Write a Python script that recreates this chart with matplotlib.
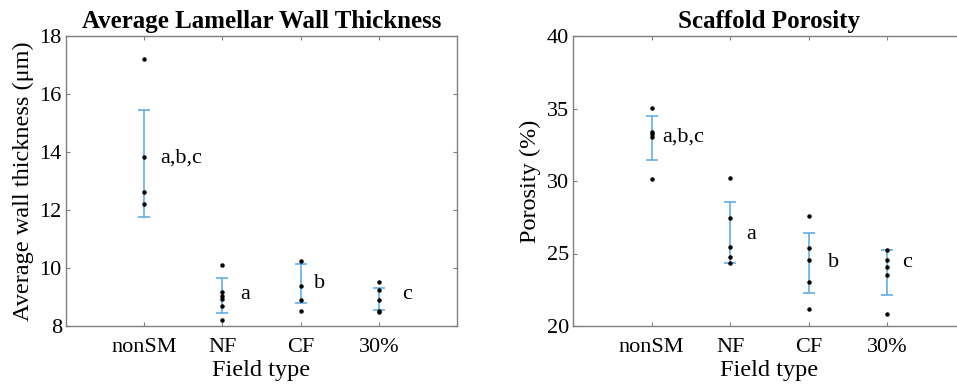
import matplotlib
matplotlib.use('Agg')
import matplotlib.pyplot as plt

plt.rcParams['font.family'] = ['Liberation Serif', 'DejaVu Serif']

groups = ['nonSM', 'NF', 'CF', '30%']

# wall thickness (um), individual samples per group
wall_pts = [
    [17.2, 13.84, 12.62, 12.2],
    [10.1, 9.18, 9.03, 8.92, 8.7, 8.2],
    [10.25, 9.38, 8.9, 8.53],
    [9.52, 9.24, 8.9, 8.52, 8.5],
]
wall_lo = [11.76, 8.46, 8.78, 8.55]
wall_hi = [15.45, 9.64, 10.14, 9.32]
wall_sig = ['a,b,c', 'a', 'b', 'c']
wall_lab = [(1.2, 13.8), (2.23, 9.1), (3.17, 9.48), (4.3, 9.1)]

# porosity (%)
por_pts = [
    [35.03, 33.4, 33.24, 33.06, 30.16],
    [30.2, 27.47, 25.47, 24.78, 24.32],
    [27.6, 25.36, 24.55, 23.06, 21.2],
    [25.26, 24.57, 24.09, 23.52, 20.8],
]
por_lo = [31.45, 24.32, 22.26, 22.14]
por_hi = [34.5, 28.55, 26.43, 25.24]
por_sig = ['a,b,c', 'a', 'b', 'c']
por_lab = [(1.14, 33.05), (2.2, 26.3), (3.24, 24.4), (4.19, 24.4)]

ebcol = '#55a8e6'
spcol = '#7f7f7f'


def draw(ax, pts, lo, hi, sig, lab, ylim, yticks, ylabel, title):
    xs = [1, 2, 3, 4]
    mid = [(a + b) / 2 for a, b in zip(lo, hi)]
    err = [(b - a) / 2 for a, b in zip(lo, hi)]
    ax.errorbar(xs, mid, yerr=err, fmt='none', ecolor=ebcol, elinewidth=1.1,
                capsize=4.5, capthick=1.1, zorder=2)
    for x, p in zip(xs, pts):
        ax.plot([x] * len(p), p, 'o', color='black', ms=2.2, zorder=3, ls='none')
    for s, (tx, ty) in zip(sig, lab):
        ax.text(tx, ty, s, fontsize=16, ha='left', va='center')
    ax.set_xlim(0, 5)
    ax.set_ylim(*ylim)
    ax.set_xticks(xs)
    ax.set_xticklabels(groups, fontsize=16)
    ax.set_yticks(yticks)
    ax.tick_params(axis='y', labelsize=16, pad=3)
    ax.tick_params(axis='x', pad=9)
    ax.tick_params(direction='in', length=3, width=0.8, color=spcol,
                   top=True, right=True)
    for s in ax.spines.values():
        s.set_color(spcol)
        s.set_linewidth(1.0)
    ax.set_xlabel('Field type', fontsize=17.5, labelpad=2)
    ax.set_ylabel(ylabel, fontsize=17.5, labelpad=4)
    ax.set_title(title, fontsize=18, fontweight='bold', pad=6)


fig = plt.figure(figsize=(9.57, 3.85), dpi=100)
ax1 = fig.add_axes([66 / 957, 59 / 385, 391 / 957, 290 / 385])
ax2 = fig.add_axes([573 / 957, 59 / 385, 393 / 957, 290 / 385])

draw(ax1, wall_pts, wall_lo, wall_hi, wall_sig, wall_lab, (8, 18),
     [8, 10, 12, 14, 16, 18], 'Average wall thickness (\u03bcm)',
     'Average Lamellar Wall Thickness')
draw(ax2, por_pts, por_lo, por_hi, por_sig, por_lab, (20, 40),
     [20, 25, 30, 35, 40], 'Porosity (%)', 'Scaffold Porosity')

fig.savefig('out.png', dpi=100)
